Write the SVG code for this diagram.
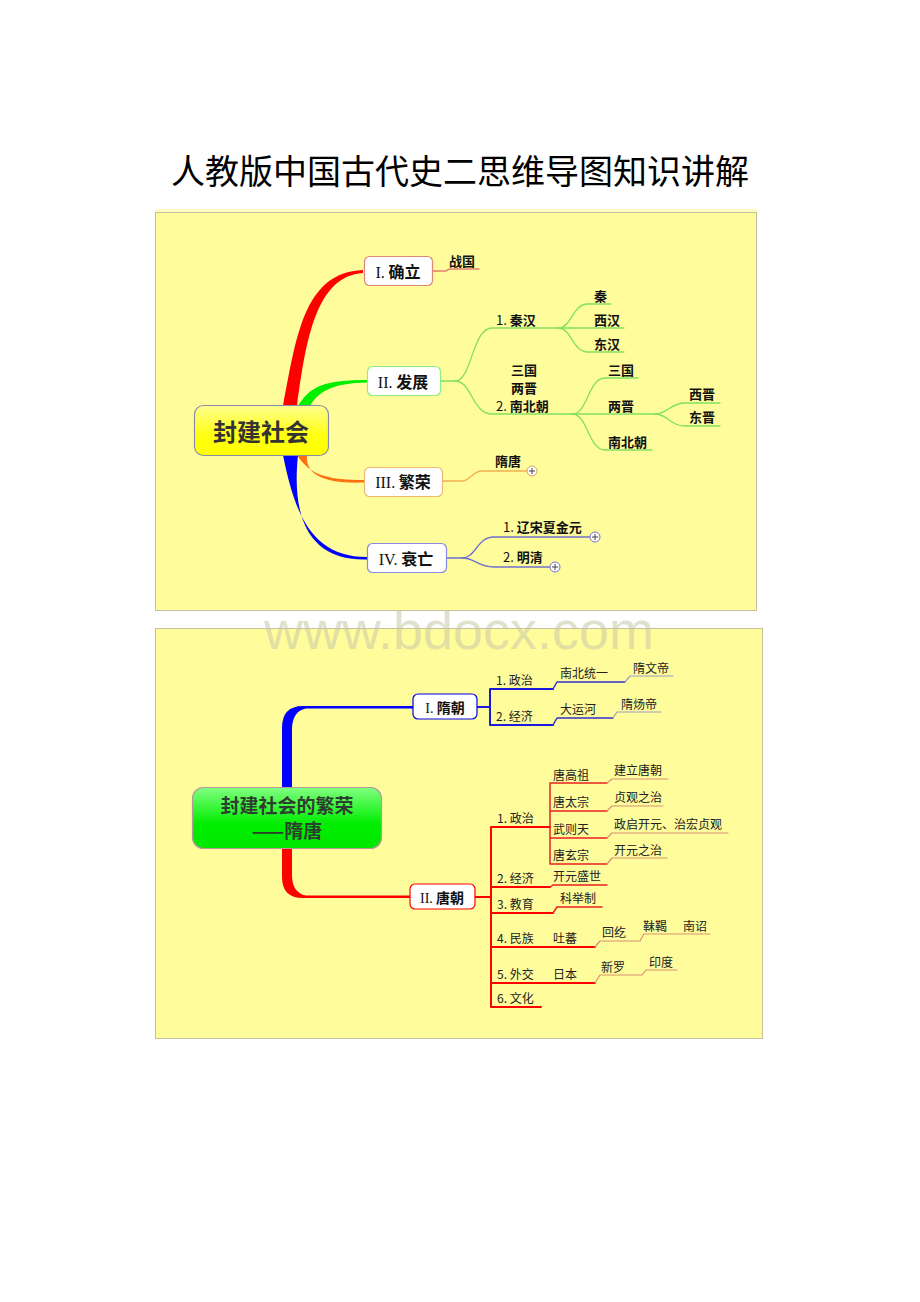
<svg xmlns="http://www.w3.org/2000/svg" width="920" height="1302" viewBox="0 0 920 1302">
<defs>
<linearGradient id="gy" x1="0" y1="0" x2="0" y2="1"><stop offset="0" stop-color="#ffff90"/><stop offset="0.6" stop-color="#ffff10"/><stop offset="1" stop-color="#ffff00"/></linearGradient>
<linearGradient id="gg" x1="0" y1="0" x2="0" y2="1"><stop offset="0" stop-color="#80ff80"/><stop offset="0.6" stop-color="#00ee00"/><stop offset="1" stop-color="#00e800"/></linearGradient>
<style>
.panel{fill:#fffc9c;stroke:#c4c0a0;stroke-width:1}
.cjk{font-family:"Noto Sans CJK SC","Noto Sans",sans-serif}
.t1{font-family:"Noto Sans CJK SC",sans-serif;font-size:13px;font-weight:bold;fill:#111}
.t2{font-family:"Noto Sans CJK SC",sans-serif;font-size:12px;fill:#222}
.tb{font-family:"Noto Sans CJK SC",sans-serif;font-size:16px;font-weight:bold;fill:#111}
.tb2{font-family:"Noto Sans CJK SC",sans-serif;font-size:14px;font-weight:bold;fill:#111}
.rn{font-family:"Liberation Serif",serif;font-weight:normal}
.nw{font-weight:normal}
.box{fill:#fff;stroke-width:1.2}
.ln{fill:none;stroke-linecap:round;stroke-linejoin:round}
.g{stroke:#80e060;stroke-width:1.3}
.o{stroke:#f0b050;stroke-width:1.3}
.b{stroke:#7070d0;stroke-width:1.3}
.r{stroke:#e08070;stroke-width:1.3}
.sb{stroke:#1a1ae0;stroke-width:2}
.sb2{stroke:#3030d0;stroke-width:1.5}
.sb3{stroke:#9c9cc8;stroke-width:1.2}
.tr{stroke:#ff0000;stroke-width:2}
.tr2{stroke:#e82020;stroke-width:1.5}
.tr3{stroke:#d89070;stroke-width:1.2}
</style>
</defs>
<rect x="0" y="0" width="920" height="1302" fill="#ffffff"/>
<text x="460" y="184" text-anchor="middle" font-family="'Noto Sans CJK SC',sans-serif" font-size="34" fill="#000">人教版中国古代史二思维导图知识讲解</text>

<!-- panel 1 -->
<rect x="155" y="209" width="602" height="4" fill="#fffcc0"/>
<rect class="panel" x="155.5" y="212.5" width="601" height="398"/>
<!-- panel 2 -->
<rect class="panel" x="155.5" y="628.5" width="607" height="410"/>
<text x="459" y="649" text-anchor="middle" font-family="'Liberation Sans',sans-serif" font-size="54" fill="#c8c6a8" fill-opacity="0.55">www.bdocx.com</text>

<g id="connectors">
<!-- top main branches -->
<path d="M283,406 C296,340 303,272 363,270 L363,273 C316,276 306,340 297,406 Z" fill="#ff0000"/>
<path d="M298,406 C310,386 325,380 367,380 L367,382.5 C332,383 318,392 310,406 Z" fill="#00ee00"/>
<path d="M297,455 C310,476 330,480 364,480 L364,482.5 C325,484 305,475 307,455 Z" fill="#ff7010"/>
<path d="M283,455 C295,515 312,557 367,557 L367,559.5 C305,561 292,512 298,455 Z" fill="#0000ff"/>
<!-- 确立 -->
<path class="ln r" d="M432,271 L446,271 Q448,269 451,269 L479,269"/>
<!-- 发展 -->
<path class="ln g" d="M440,381 L455,381 C472,381 472,328 492,328 L558,328"/>
<path class="ln g" d="M455,381 C472,381 472,414 492,414 L572,414"/>
<path class="ln g" d="M558,328 C572,328 572,304 588,304 L611,304"/>
<path class="ln g" d="M558,328 L624,328"/>
<path class="ln g" d="M558,328 C572,328 572,352 588,352 L624,352"/>
<path class="ln g" d="M572,414 C588,414 588,378 605,378 L638,378"/>
<path class="ln g" d="M572,414 L655,414"/>
<path class="ln g" d="M572,414 C588,414 588,450 605,450 L652,450"/>
<path class="ln g" d="M655,414 C668,414 670,403 685,403 L720,403"/>
<path class="ln g" d="M655,414 C668,414 670,426 685,426 L720,426"/>
<!-- 繁荣 -->
<path class="ln o" d="M442,481 L462,481 C470,481 472,471 482,471 L527,471"/>
<!-- 衰亡 -->
<path class="ln b" d="M446,558 L462,558 C476,558 477,537 494,537 L590,537"/>
<path class="ln b" d="M462,558 C476,558 477,567 494,567 L550,567"/>

<!-- bottom main bars -->
<path d="M282,788 L282,728 Q282,706 303,706 L413,706 L413,708.5 L306,708.5 Q292,711 292,730 L292,788 Z" fill="#0000ff"/>
<path d="M282,849 L282,877 Q282,898 303,898 L410,898 L410,895.5 L306,895.5 Q292,893 292,875 L292,849 Z" fill="#ff0000"/>
<!-- Sui -->
<path class="ln sb" d="M477,707 L490,707 M490,689 L490,725 M490,689 L553,689 M490,725 L553,725"/>
<path class="ln sb2" d="M553,689 L557,682 L625,682 M553,725 L557,718 L613,718"/>
<path class="ln sb3" d="M625,682 L630,676 L673,676 M613,718 L617,712 L661,712"/>
<!-- Tang -->
<path class="ln tr" d="M475,897 L491,897 M491,827 L491,1007 M491,827 L550,827 M491,887 L550,887 M491,913 L553,913 M491,947 L595,947 M491,983 L595,983 M491,1007 L541,1007"/>
<path class="ln tr2" d="M550,783 L550,864 M550,783 L607,783 M550,811 L607,811 M550,838 L607,838 M550,864 L607,864 M550,887 L553,885 L607,885 M553,913 L557,907 L602,907"/>
<path class="ln tr3" d="M607,783 L612,779 L668,779 M607,811 L612,806 L663,806 M607,838 L612,833 L728,833 M607,864 L612,858 L667,858 M595,947 L600,941 L640,941 M640,941 L644,934 L710,934 M595,983 L600,975 L642,975 M642,975 L646,970 L677,970"/>
</g>

<g id="n-root1">
<rect x="194.5" y="405.5" width="134" height="50" rx="9" fill="url(#gy)" stroke="#8a8aa8" stroke-width="1.2"/>
<text x="261" y="441" text-anchor="middle" class="cjk" font-size="24" font-weight="bold" fill="#333">封建社会</text>
</g>
<g id="n-queli">
<rect class="box" x="364.5" y="256.5" width="68" height="29" rx="5" stroke="#e08878"/>
<text x="398" y="278" text-anchor="middle" class="tb"><tspan class="rn">I.</tspan> 确立</text>
</g>
<g id="n-zhanguo"><text x="449" y="266" class="t1">战国</text></g>
<g id="n-fazhan">
<rect class="box" x="367.5" y="366.5" width="73" height="29" rx="5" stroke="#90ee80"/>
<text x="403" y="388" text-anchor="middle" class="tb"><tspan class="rn">II.</tspan> 发展</text>
</g>
<g id="n-qinhan"><text x="496" y="325" class="t1"><tspan class="nw">1.</tspan> 秦汉</text></g>
<g id="n-qin"><text x="594" y="301" class="t1">秦</text></g>
<g id="n-xihan"><text x="594" y="325" class="t1">西汉</text></g>
<g id="n-donghan"><text x="594" y="349" class="t1">东汉</text></g>
<g id="n-nbc">
<text x="511" y="375" class="t1">三国</text>
<text x="511" y="393" class="t1">两晋</text>
<text x="496" y="411" class="t1"><tspan class="nw">2.</tspan> 南北朝</text>
</g>
<g id="n-sanguo"><text x="608" y="375" class="t1">三国</text></g>
<g id="n-liangjin"><text x="608" y="411" class="t1">两晋</text></g>
<g id="n-nanbeichao"><text x="608" y="447" class="t1">南北朝</text></g>
<g id="n-xijin"><text x="689" y="399" class="t1">西晋</text></g>
<g id="n-dongjin"><text x="689" y="422" class="t1">东晋</text></g>
<g id="n-fanrong">
<rect class="box" x="364.5" y="467.5" width="78" height="29" rx="5" stroke="#f0b870"/>
<text x="403" y="488" text-anchor="middle" class="tb"><tspan class="rn">III.</tspan> 繁荣</text>
</g>
<g id="n-suitang">
<text x="495" y="466" class="t1">隋唐</text>
<circle cx="532" cy="471" r="5" fill="#fff" stroke="#e0a060" stroke-width="1"/>
<path d="M529,471 H535 M532,468 V474" stroke="#444" stroke-width="1"/>
</g>
<g id="n-shuaiwang">
<rect class="box" x="367.5" y="543.5" width="79" height="29" rx="5" stroke="#8888e0"/>
<text x="406" y="565" text-anchor="middle" class="tb"><tspan class="rn">IV.</tspan> 衰亡</text>
</g>
<g id="n-liaosong">
<text x="503" y="532" class="t1"><tspan class="nw">1.</tspan> 辽宋夏金元</text>
<circle cx="595" cy="537" r="5" fill="#fff" stroke="#7070d0" stroke-width="1"/>
<path d="M592,537 H598 M595,534 V540" stroke="#444" stroke-width="1"/>
</g>
<g id="n-mingqing">
<text x="503" y="562" class="t1"><tspan class="nw">2.</tspan> 明清</text>
<circle cx="555" cy="567" r="5" fill="#fff" stroke="#7070d0" stroke-width="1"/>
<path d="M552,567 H558 M555,564 V570" stroke="#444" stroke-width="1"/>
</g>

<!-- bottom map -->
<g id="n-root2">
<rect x="192.5" y="787.5" width="189" height="61" rx="11" fill="url(#gg)" stroke="#b89898" stroke-width="1.2"/>
<text x="287" y="813" text-anchor="middle" class="cjk" font-size="19" font-weight="bold" fill="#2e3e2e">封建社会的繁荣</text>
<text x="287" y="838" text-anchor="middle" class="cjk" font-size="19" font-weight="bold" fill="#2e3e2e">——隋唐</text>
</g>
<g id="n-suichao">
<rect class="box" x="413" y="694" width="64" height="25" rx="5" stroke="#0000e0" stroke-width="2"/>
<text x="445" y="713" text-anchor="middle" class="tb2"><tspan class="rn">I.</tspan> 隋朝</text>
</g>
<g id="n-sui-zz"><text x="496" y="685" class="t2">1. 政治</text></g>
<g id="n-sui-nbty"><text x="560" y="678" class="t2">南北统一</text></g>
<g id="n-sui-wd"><text x="633" y="673" class="t2">隋文帝</text></g>
<g id="n-sui-jj"><text x="496" y="721" class="t2">2. 经济</text></g>
<g id="n-sui-dyh"><text x="560" y="714" class="t2">大运河</text></g>
<g id="n-sui-yd"><text x="621" y="709" class="t2">隋炀帝</text></g>

<g id="n-tangchao">
<rect class="box" x="410" y="884" width="65" height="25" rx="5" stroke="#ff0000" stroke-width="2"/>
<text x="442" y="903" text-anchor="middle" class="tb2"><tspan class="rn">II.</tspan> 唐朝</text>
</g>
<g id="n-t-zz"><text x="497" y="823" class="t2">1. 政治</text></g>
<g id="n-t-gz"><text x="553" y="780" class="t2">唐高祖</text><text x="614" y="775" class="t2">建立唐朝</text></g>
<g id="n-t-tz"><text x="553" y="807" class="t2">唐太宗</text><text x="614" y="802" class="t2">贞观之治</text></g>
<g id="n-t-wzt"><text x="553" y="834" class="t2">武则天</text><text x="614" y="829" class="t2">政启开元、治宏贞观</text></g>
<g id="n-t-xz"><text x="553" y="860" class="t2">唐玄宗</text><text x="614" y="855" class="t2">开元之治</text></g>
<g id="n-t-jj"><text x="497" y="883" class="t2">2. 经济</text><text x="553" y="881" class="t2">开元盛世</text></g>
<g id="n-t-jy"><text x="497" y="909" class="t2">3. 教育</text><text x="560" y="903" class="t2">科举制</text></g>
<g id="n-t-mz"><text x="497" y="943" class="t2">4. 民族</text><text x="553" y="943" class="t2">吐蕃</text><text x="602" y="937" class="t2">回纥</text><text x="643" y="931" class="t2">靺鞨</text><text x="683" y="931" class="t2">南诏</text></g>
<g id="n-t-wj"><text x="497" y="979" class="t2">5. 外交</text><text x="553" y="979" class="t2">日本</text><text x="601" y="972" class="t2">新罗</text><text x="649" y="967" class="t2">印度</text></g>
<g id="n-t-wh"><text x="497" y="1003" class="t2">6. 文化</text></g>
</svg>
